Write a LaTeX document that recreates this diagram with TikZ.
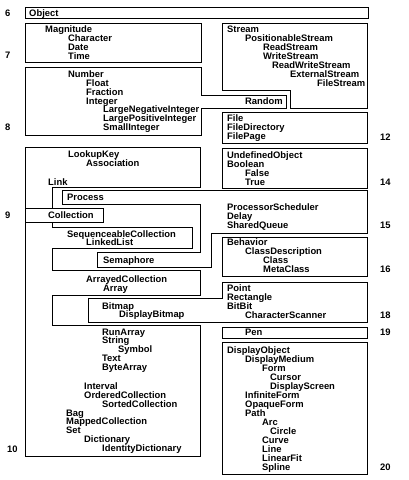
\documentclass[tikz,border=0pt]{standalone}
\usepackage{fontspec}
\setmainfont{Liberation Sans}
\begin{document}
\begin{tikzpicture}[x=1pt,y=-1pt,
  box/.style={draw=black, line width=1pt, line join=miter},
  t/.style={anchor=base west, inner sep=0pt, font=\fontsize{9.4}{10}\selectfont\bfseries},
  num/.style={t}]
\useasboundingbox (0,0) rectangle (408,480);
% ---- chapter outlines ----
\draw[box] (25,7) rectangle (368,18);                       % 6
\draw[box] (25,23) rectangle (201,62);                      % 7
\draw[box] (25,67) -- (201,67) -- (201,95) -- (286,95) -- (286,108)
  -- (201,108) -- (201,135) -- (25,135) -- cycle;            % 8
\draw[box] (222,23) -- (367,23) -- (367,108) -- (290,108) -- (290,90)
  -- (222,90) -- cycle;                                      % 12
\draw[box] (222,112) rectangle (367,143);                   % 12
\draw[box] (222,148) rectangle (367,188);                   % 14
\draw[box] (25,147) -- (200,147) -- (200,187) -- (52,187) -- (52,227)
  -- (192,227) -- (192,248) -- (52,248) -- (52,270) -- (200,270)
  -- (200,295) -- (52,295) -- (52,325) -- (200,325) -- (200,456)
  -- (25,456) -- cycle;                                      % 10
\draw[box, fill=white] (25,208) rectangle (103,222);        % 9
\draw[box] (62,190) -- (367,190) -- (367,233) -- (211,233) -- (211,267)
  -- (97,267) -- (97,252) -- (200,252) -- (200,204) -- (62,204) -- cycle; % 15
\draw[box] (222,237) rectangle (367,276);                   % 16
\draw[box] (88,298) -- (222,298) -- (222,282) -- (367,282) -- (367,322)
  -- (88,322) -- cycle;                                      % 18
\draw[box] (222,327) rectangle (367,338);                   % 19
\draw[box] (222,342) rectangle (367,474);                   % 20
% ---- chapter numbers ----
\node[num] (c6)  at (5,16.3) {6};
\node[num] (c7)  at (5,58.5) {7};
\node[num] (c8)  at (5,130) {8};
\node[num] (c9)  at (5,218.3) {9};
\node[num] (c10) at (7,452.3) {10};
\node[num] (c12) at (380,140) {12};
\node[num] (c14) at (380,185) {14};
\node[num] (c15) at (380,228.3) {15};
\node[num] (c16) at (380,272.6) {16};
\node[num] (c18) at (380,318.3) {18};
\node[num] (c19) at (380,335) {19};
\node[num] (c20) at (380,470.3) {20};
% ---- left column ----
\node[t] (obj) at (29,16.3) {Object};
\node[t] (mag) at (45,32.3) {Magnitude};
\node[t] (chr) at (68,41.2) {Character};
\node[t] (dat) at (68,50.1) {Date};
\node[t] (tim) at (68,59) {Time};
\node[t] (nmb) at (68,77.3) {Number};
\node[t] (flt) at (86,86.2) {Float};
\node[t] (frc) at (86,95.1) {Fraction};
\node[t] (int) at (86,104) {Integer};
\node[t] (lni) at (103,112.9) {LargeNegativeInteger};
\node[t] (lpi) at (103,121.8) {LargePositiveInteger};
\node[t] (smi) at (103,130.7) {SmallInteger};
\node[t] (lkk) at (68,157.3) {LookupKey};
\node[t] (asc) at (86,166.4) {Association};
\node[t] (lnk) at (48,185) {Link};
\node[t] (prc) at (67,200.6) {Process};
\node[t] (col) at (48,218.3) {Collection};
\node[t] (sqc) at (67,237) {SequenceableCollection};
\node[t] (lkl) at (86,245.6) {LinkedList};
\node[t] (sem) at (103,263.3) {Semaphore};
\node[t] (arc) at (86,282.3) {ArrayedCollection};
\node[t] (arr) at (103,291) {Array};
\node[t] (bmp) at (102,309) {Bitmap};
\node[t] (dbm) at (119,317.8) {DisplayBitmap};
\node[t] (rna) at (102,335) {RunArray};
\node[t] (str) at (102,343.9) {String};
\node[t] (sym) at (118,352.8) {Symbol};
\node[t] (txt) at (102,361.7) {Text};
\node[t] (bya) at (102,370.6) {ByteArray};
\node[t] (itv) at (84,389.3) {Interval};
\node[t] (odc) at (84,398.2) {OrderedCollection};
\node[t] (soc) at (102,407.1) {SortedCollection};
\node[t] (bag) at (66,416) {Bag};
\node[t] (mpc) at (66,424.9) {MappedCollection};
\node[t] (set) at (66,433.8) {Set};
\node[t] (dic) at (84,442.7) {Dictionary};
\node[t] (idd) at (102,451.6) {IdentityDictionary};
% ---- right column ----
\node[t] (stm) at (227,32.6) {Stream};
\node[t] (pst) at (245,41.5) {PositionableStream};
\node[t] (rst) at (263,50.4) {ReadStream};
\node[t] (wst) at (263,59.3) {WriteStream};
\node[t] (rws) at (272,68.2) {ReadWriteStream};
\node[t] (ext) at (290,77.1) {ExternalStream};
\node[t] (fst) at (317,86) {FileStream};
\node[t] (rnd) at (245,104.3) {Random};
\node[t] (fil) at (227,121.6) {File};
\node[t] (fdr) at (227,130.6) {FileDirectory};
\node[t] (fpg) at (227,139.6) {FilePage};
\node[t] (udo) at (227,158.3) {UndefinedObject};
\node[t] (boo) at (227,167.2) {Boolean};
\node[t] (fal) at (245,176.1) {False};
\node[t] (tru) at (245,185) {True};
\node[t] (psc) at (227,210) {ProcessorScheduler};
\node[t] (dly) at (227,219) {Delay};
\node[t] (shq) at (227,228.3) {SharedQueue};
\node[t] (beh) at (227,245) {Behavior};
\node[t] (cld) at (245,254.2) {ClassDescription};
\node[t] (cls) at (263,263.4) {Class};
\node[t] (mcl) at (263,272.6) {MetaClass};
\node[t] (pnt) at (227,291.6) {Point};
\node[t] (rct) at (227,300.5) {Rectangle};
\node[t] (bbt) at (227,309.4) {BitBit};
\node[t] (csc) at (245,318.3) {CharacterScanner};
\node[t] (pen) at (245,335) {Pen};
\node[t] (dob) at (227,353.3) {DisplayObject};
\node[t] (dme) at (245,362.3) {DisplayMedium};
\node[t] (frm) at (262,371.3) {Form};
\node[t] (cur) at (270,380.3) {Cursor};
\node[t] (dsc) at (270,389.3) {DisplayScreen};
\node[t] (inf) at (245,398.3) {InfiniteForm};
\node[t] (opf) at (245,407.3) {OpaqueForm};
\node[t] (pth) at (245,416.3) {Path};
\node[t] (arcn) at (262,425.3) {Arc};
\node[t] (cir) at (270,434.3) {Circle};
\node[t] (crv) at (262,443.3) {Curve};
\node[t] (lin) at (262,452.3) {Line};
\node[t] (lft) at (262,461.3) {LinearFit};
\node[t] (spl) at (262,470.3) {Spline};
\end{tikzpicture}
\end{document}
